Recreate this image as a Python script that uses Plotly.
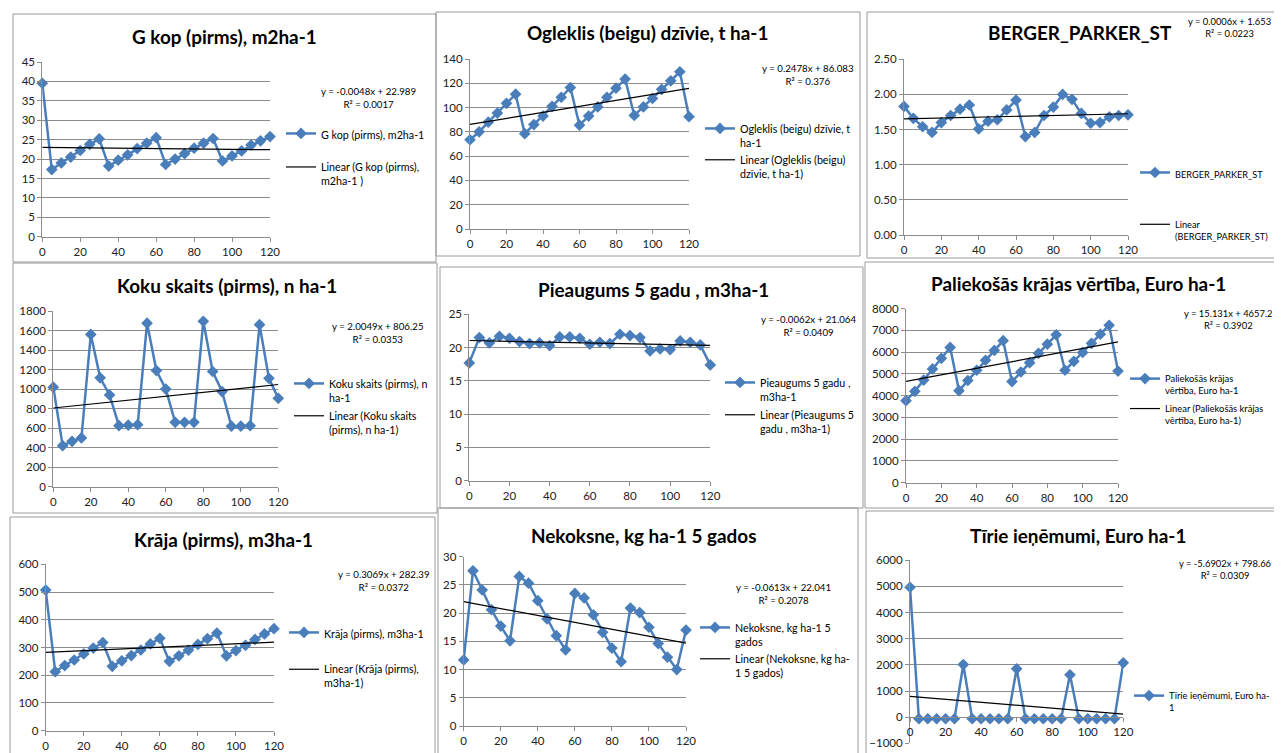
import plotly.graph_objects as go

W, H = 1282, 753
X = list(range(0, 121, 5))

# ---------------- data ----------------
titles = [
    "G kop (pirms), m2ha-1",
    "Ogleklis (beigu) dzīvie, t ha-1",
    "BERGER_PARKER_ST",
    "Koku skaits (pirms), n ha-1",
    "Pieaugums 5 gadu , m3ha-1",
    "Paliekošās krājas vērtība, Euro ha-1",
    "Krāja (pirms), m3ha-1",
    "Nekoksne, kg ha-1 5 gados",
    "Tīrie ieņēmumi, Euro ha-1",
]
series_names = [
    "G kop (pirms), m2ha-1",
    "Ogleklis (beigu) dzīvie, t<br>ha-1",
    "BERGER_PARKER_ST",
    "Koku skaits (pirms), n<br>ha-1",
    "Pieaugums 5 gadu ,<br>m3ha-1",
    "Paliekošās krājas<br>vērtība, Euro ha-1",
    "Krāja (pirms), m3ha-1",
    "Nekoksne, kg ha-1 5<br>gados",
    "Tīrie ieņēmumi, Euro ha-<br>1",
]
trend_names = [
    "Linear (G kop (pirms),<br>m2ha-1 )",
    "Linear (Ogleklis (beigu)<br>dzīvie, t ha-1)",
    "Linear<br>(BERGER_PARKER_ST)",
    "Linear (Koku skaits<br>(pirms), n ha-1)",
    "Linear (Pieaugums 5<br>gadu , m3ha-1)",
    "Linear (Paliekošās krājas<br>vērtība, Euro ha-1)",
    "Linear (Krāja (pirms),<br>m3ha-1)",
    "Linear (Nekoksne, kg ha-<br>1 5 gados)",
    "Linear (Tīrie ieņēmumi, Euro<br>ha-1)",
]

g_kop = [39.5, 17.3, 19.0, 20.5, 22.2, 23.8, 25.2, 18.2, 19.7, 21.1, 22.7, 24.1, 25.5,
         18.6, 20.0, 21.4, 22.8, 24.1, 25.3, 19.5, 20.8, 22.1, 23.6, 24.7, 25.8]
ogleklis = [73.5, 80, 88, 95.5, 103.5, 111, 78.5, 86, 93, 101, 108.5, 116.5, 85.5,
            93, 100.5, 108.5, 116, 123.5, 93.5, 100.5, 107.5, 115, 122, 129.5, 92.5]
berger = [1.83, 1.66, 1.54, 1.46, 1.60, 1.70, 1.79, 1.85, 1.51, 1.62, 1.64, 1.78, 1.92,
          1.40, 1.46, 1.70, 1.82, 2.00, 1.93, 1.73, 1.59, 1.60, 1.68, 1.70, 1.71]
koku = [1020, 420, 465, 500, 1560, 1115, 940, 625, 630, 635, 1675, 1190, 1000,
        660, 660, 660, 1695, 1180, 975, 620, 620, 625, 1660, 1110, 905]
pieaugums = [17.7, 21.5, 20.7, 21.7, 21.4, 20.9, 20.6, 20.7, 20.3, 21.6, 21.6, 21.4, 20.5,
             20.8, 20.6, 22.0, 21.8, 21.5, 19.5, 19.8, 19.7, 21.0, 20.8, 20.4, 17.4]
paliekosas = [3770, 4200, 4720, 5230, 5720, 6220, 4230, 4700, 5170, 5630, 6080, 6530, 4650,
              5090, 5520, 5950, 6370, 6800, 5170, 5580, 5990, 6410, 6830, 7240, 5130]
kraja = [507, 213, 235, 255, 277, 298, 318, 232, 252, 271, 291, 313, 333,
         250, 270, 290, 311, 332, 352, 270, 289, 308, 329, 349, 368]
nekoksne = [11.7, 27.5, 24.1, 20.6, 17.7, 15.1, 26.5, 25.3, 22.2, 19.0, 16.0, 13.5, 23.5,
            22.7, 19.7, 16.6, 13.8, 11.4, 20.9, 20.1, 17.5, 14.6, 12.2, 10.0, 17.0]
tirie = [4970, -60, -60, -60, -60, -60, 2010, -60, -60, -60, -60, -60, 1850,
         -60, -60, -60, -60, -60, 1620, -60, -60, -60, -60, -60, 2080]

series = [g_kop, ogleklis, berger, koku, pieaugums, paliekosas, kraja, nekoksne, tirie]

slopes = [-0.0048, 0.2478, 0.0006, 2.0049, -0.0062, 15.131, 0.3069, -0.0613, -5.6902]
intercepts = [22.989, 86.083, 1.653, 806.25, 21.064, 4657.2, 282.39, 22.041, 798.66]
eq_texts = ["y = -0.0048x + 22.989", "y = 0.2478x + 86.083", "y = 0.0006x + 1.653",
            "y = 2.0049x + 806.25", "y = -0.0062x + 21.064", "y = 15.131x + 4657.2",
            "y = 0.3069x + 282.39", "y = -0.0613x + 22.041", "y = -5.6902x + 798.66"]
r2_texts = ["R² = 0.0017", "R² = 0.376", "R² = 0.0223", "R² = 0.0353", "R² = 0.0409",
            "R² = 0.3902", "R² = 0.0372", "R² = 0.2078", "R² = 0.0309"]

y_ranges = [(0, 45, 5), (0, 140, 20), (0, 2.5, 0.5), (0, 1800, 200), (0, 25, 5),
            (0, 8000, 1000), (0, 600, 100), (0, 30, 5), (-1000, 6000, 1000)]
y_formats = ["", "", ".2f", "", "", "", "", "", ""]

# ---------------- layout geometry (page pixels) ----------------
plot_boxes = [  # x0, x1, ytop, ybottom
    (42.3, 270, 62, 236.7),
    (470, 689, 59, 229),
    (904, 1128, 59.3, 235),
    (53.3, 278.3, 311, 486.7),
    (469.3, 710.3, 314.3, 480.7),
    (906, 1118, 308.7, 482.7),
    (45.7, 274, 564.3, 730.7),
    (463.7, 686, 556.7, 726),
    (910, 1123.3, 560.3, 743.3),
]
frames = [
    (13, 14, 436, 262), (436, 12, 860, 256), (867, 12, 1290, 258),
    (13, 263, 437, 513), (440, 267, 863, 508), (865, 262, 1290, 508),
    (10, 517, 435, 760), (438, 508, 858, 760), (866, 511, 1290, 760),
]
title_pos = [(224, 37), (647, 33), (1080, 33), (227, 285), (653, 289), (1078, 283),
             (223, 539), (643, 535), (1078, 535)]
eq_pos = [(368, 90), (808, 67), (1229, 21), (378, 325), (809, 318), (1228, 313),
          (384, 573), (783, 586), (1225, 563)]
eq_font = [9.7, 9.7, 9.4, 9.7, 9.7, 9.4, 9.7, 9.7, 9.4]
legend_text_x = [321, 740, 1175, 329, 760, 1165, 324, 735, 1169]
legend_first_y = [130, 125, 170, 380, 379, 376, 629, 624, 693]
legend_gaps = [14.5, 0.5, 32.8, 1.5, 1.5, 2.5, 17.8, 0.5, 5]
legend_font = [10.7, 10.7, 9.2, 10.7, 10.7, 9.4, 10.7, 10.7, 9.4]

FONT = "Lato, 'Open Sans', sans-serif"
BLUE = "#4A7EBB"
GRID = "#8c8c8c"
PAD = 8                      # page body margin (top/left) before the figure
FW, FH = W - PAD, H - PAD


def fx(p):
    return (p - PAD) / FW


def fy(p):
    return 1 - (p - PAD) / FH


fig = go.Figure()
layout = dict(
    width=FW, height=FH, margin=dict(l=0, r=0, t=0, b=0, autoexpand=False),
    paper_bgcolor="white", plot_bgcolor="white",
    font=dict(family=FONT, color="#000000"),
    annotations=[], shapes=[],
)

for i in range(9):
    n = "" if i == 0 else str(i + 1)
    xa, ya, lg = "x" + n, "y" + n, "legend" + n
    x0, x1, yt, yb = plot_boxes[i]
    ymin, ymax, dy = y_ranges[i]

    fig.add_trace(go.Scatter(
        x=X, y=series[i], mode="lines+markers", name=series_names[i],
        line=dict(color=BLUE, width=2.5),
        marker=dict(symbol="diamond", size=9, color=BLUE),
        xaxis=xa, yaxis=ya, legend=lg, legendgroup=f"s{i}", cliponaxis=False,
    ))
    fig.add_trace(go.Scatter(
        x=[X[0], X[-1]],
        y=[slopes[i] * X[0] + intercepts[i], slopes[i] * X[-1] + intercepts[i]],
        mode="lines", name=trend_names[i],
        line=dict(color="#000000", width=1.2),
        xaxis=xa, yaxis=ya, legend=lg, legendgroup=f"t{i}",
        showlegend=(i != 8),
    ))

    xdom = [fx(x0), fx(x1)]
    ydom = [fy(yb), fy(yt)]
    xaxis = dict(
        domain=xdom, range=[0, 120], dtick=20, tick0=0, anchor=ya,
        showgrid=False, zeroline=False, showline=True, linecolor=GRID, linewidth=1,
        ticks="outside", ticklen=4, tickcolor=GRID,
        tickfont=dict(size=11.5, family=FONT, color="#222"),
    )
    if ymin < 0:
        xaxis["anchor"] = "free"
        xaxis["position"] = ydom[0] + (0 - ymin) / (ymax - ymin) * (ydom[1] - ydom[0])
    yaxis = dict(
        domain=ydom, range=[ymin, ymax], dtick=dy, tick0=ymin, anchor=xa,
        showgrid=True, gridcolor=GRID, gridwidth=1, zeroline=False,
        showline=True, linecolor=GRID, linewidth=1,
        ticks="outside", ticklen=4, tickcolor=GRID, tickformat=y_formats[i],
        tickfont=dict(size=11.5, family=FONT, color="#222"),
    )
    layout["xaxis" + n] = xaxis
    layout["yaxis" + n] = yaxis

    layout[lg] = dict(
        x=fx(legend_text_x[i] - 40), y=fy(legend_first_y[i] - 10),
        xanchor="left", yanchor="top", bgcolor="rgba(0,0,0,0)",
        font=dict(size=legend_font[i], family=FONT, color="#000"),
        itemwidth=30, valign="top", traceorder="grouped",
        tracegroupgap=legend_gaps[i],
    )

    fx0, fy0, fx1, fy1 = frames[i]
    layout["shapes"].append(dict(
        type="rect", xref="paper", yref="paper",
        x0=fx(fx0), x1=fx(fx1), y0=fy(fy1), y1=fy(fy0),
        line=dict(color="#9a9a9a", width=1), layer="below",
    ))
    layout["annotations"].append(dict(
        text="<b>" + titles[i] + "</b>", xref="paper", yref="paper",
        x=fx(title_pos[i][0]), y=fy(title_pos[i][1]),
        xanchor="center", yanchor="middle", showarrow=False,
        font=dict(size=18.9, family=FONT, color="#000"),
    ))
    layout["annotations"].append(dict(
        text=eq_texts[i] + "<br>" + r2_texts[i], xref="paper", yref="paper",
        x=fx(eq_pos[i][0]), y=fy(eq_pos[i][1] - 7),
        xanchor="center", yanchor="top", align="center", showarrow=False,
        font=dict(size=eq_font[i], family=FONT, color="#000"),
    ))

fig.update_layout(**layout)
fig.write_html("out.html")
